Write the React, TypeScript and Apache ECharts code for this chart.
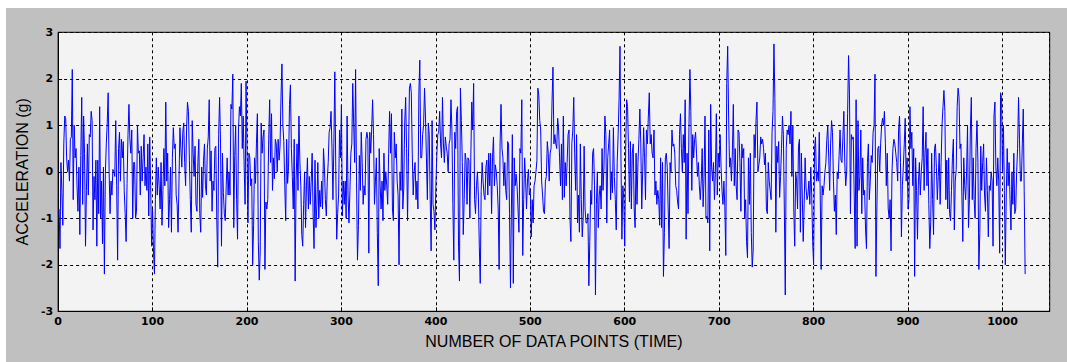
import React, { useEffect, useRef } from "react";
import * as echarts from "echarts";

// Acceleration samples (g) in 10 consecutive blocks (1024 samples total)
const seg01 = [
  -0.8, -1.65, 0.2, -0.45, -1.15, 0.6, 1.2, 1.15, 0.3, 0.0,
  0.25, -0.2, 0.7, 0.75, 2.2, -0.6, 1.0, 0.3, 0.5, -0.3,
  -0.85, 0.1, -1.35, 0.35, 1.6, -0.7, 1.2, 0.4, -1.6, -0.4,
  0.6, -0.5, 0.8, 0.75, 1.3, 1.1, -1.25, -0.1, -0.6, 0.25,
  -1.6, 0.25, -0.9, 1.4, -1.0, -0.2, -1.55, 0.1, -2.2, -0.05,
  0.6, 1.05, 1.7, 0.0, -0.9, -0.2, -0.5, 0.05, 0.0, -0.1,
  1.1, -0.3, -1.9, 0.5, 0.85, -0.2, 0.7, 0.3, 0.65, -0.4,
  -0.9, -1.5, -0.25, 0.8, 1.45, 0.7, 0.4, 0.9, -1.0, 0.2,
  0.2, -1.0, -0.85, 1.0, 0.4, 0.45, -0.5, 0.55, -0.2, 0.3,
  0.8, -0.3, 0.1, -0.4, 0.6, -0.95, 0.75, -0.3, -1.6, -0.8,
  -1.7, -2.2, -0.6,
];
const seg02 = [
  0.3, -0.5, 0.1, -0.3, -0.8, 0.2, -1.15, -0.4, 0.5, -0.3,
  1.5, -0.2, 0.4, -1.2, -0.6, 0.1, -1.3, 0.3, 0.95, 0.5,
  0.6, -0.5, -0.7, -1.3, -0.2, 0.95, 0.5, 0.1, 0.85, 1.05,
  0.2,
  -0.3, 0.9, 1.5, 1.3, 0.25, -0.6, -1.3, 1.1, 0.4, -0.1,
  0.55, -0.7, -0.85, 0.2, 0.7, -0.9, -1.3, 0.1, -0.55, 0.25,
  0.6,
  -0.3, -0.5, 0.5, 0.75, 1.55, -0.2, 0.45, -0.85, -0.2, -0.4,
  0.5, 0.55, -1.0, -2.05, 0.8, 1.6, 0.6, -1.6, 0.4, -0.45,
  -0.9,
  -1.05, -0.3, 0.3, -0.5, 0.0, -0.5, 1.45, 1.35, 2.1, -1.2,
  0.35, 1.0, -0.6, -1.45, 0.9, 1.4, 1.2, 1.9, 0.5, 1.2,
  0.1,
  -0.7, 1.95, 0.5, -1.1, 0.4, 0.3, -0.3, -0.15, -2.0, -1.15,
];
const seg03 = [
  0.3, -0.25, 0.6, 1.25, -1.5, -2.33, -1.7, 1.05, 0.4, 0.75,
  0.9, -2.1, -0.65, -0.8, -0.6, 0.7, 1.55, 0.2, 1.25, -0.4,
  0.3,
  -0.15, 0.7, 0.6, 0.0, 0.7, 0.25, 0.55, 1.6, 2.32, 1.0,
  0.65, -0.3, -1.05, 0.7, -0.25, 0.1, 1.45, 1.87, 0.5, -0.1,
  -0.8, 0.7, -2.35, -0.2, 0.6,
  -0.4,
  1.2, 0.2, -0.3, -1.35, -1.6,
  -0.7, 0.0, -1.2, -0.3, 0.3, -0.8, -0.1, -0.7, -0.2, 0.4,
  -0.9, -1.65, 0.25, -1.2, -0.7,
  0.2,
  -1.0, -0.4, -0.75, -0.2, -0.8,
  0.5, 0.1, -0.6, -0.95, -0.2, 0.2, 0.85, 0.95, 1.3, 0.5,
  -0.6, 0.6, 2.15, 0.1, -1.45,
  -0.9,
  -0.5, 0.9, 0.3, 1.44, -0.95,
  -0.2, -0.7, -0.2, -1.0, 1.2, -0.5, -1.1, -0.4, 0.4, 0.6,
];
const seg04 = [
  1.9, 1.0, 0.2, 2.2, -0.2, -1.9, -1.15, 0.35, -0.4, 0.85,
  0.2, -0.7, -0.3, -0.5, 0.7, 0.85, 0.7, -1.75, 0.85, 0.4,
  0.9, 1.55, 0.8, -0.7, -0.2,
  0.3,
  -1.3, -2.45, 0.5, -0.3, -0.8,
  -0.2, -1.05, 0.4, -0.4, 0.0, -0.3, -0.7, 0.4, 1.3, 0.4,
  1.25, -0.8, -1.05, 0.85, 0.3,
  0.6,
  -0.2, -0.5, -2.0, 0.0, -0.4,
  1.35, -0.8, -0.35, 1.05, 1.6, 0.5, -1.05, 0.3, 1.8, 1.9,
  1.7, 0.4, -0.5, 0.0, 0.2,
  -0.6,
  -0.2, -0.8, 1.7, 2.4, 0.3,
  0.3, 0.8, 1.0, 1.8, 1.2, 0.3, -0.6, 1.05, 0.8, -0.6,
  -1.7, 1.1, -0.7, -0.85, -1.25,
  -0.3,
  0.35, 0.8, 0.85, 1.3, 0.6,
  0.3, 1.6, 0.6, 0.2, 0.75, 0.55, 0.4, 0.0, 0.6, 0.7,
];
const seg05 = [
  1.55, 0.9, -0.7, -1.9, 0.85, 0.5, 1.3, 1.4, -1.6, -2.35,
  1.8, 1.1, 0.2, -1.35, -0.6,
  0.4,
  0.25, -0.7, 0.3, 0.25, -1.0,
  0.3, 1.5, 0.9, 1.9, -0.6, -0.9, -0.3, 0.0, -0.5, -1.6,
  -2.4, -0.4, 0.2, -0.2, -0.5,
  -0.6,
  0.1, 0.25, -0.5, 0.4, -0.3,
  0.4, -0.9, 0.3, 0.75, -0.3, 0.15, 0.0, -0.3, -0.8, -2.1,
  0.6, 1.45, 0.5, 0.3, -0.3,
  0.2,
  -0.4, -0.6, 0.65, 0.6, -0.9,
  -2.5, -0.8, 0.8, -2.4, 0.3, -0.3, -0.05, -0.3, -0.8, -1.3,
  0.5, 0.4, 1.55, -1.8, -0.6,
  0.3,
  -0.15, -0.8, -0.2, 0.05, -0.5,
  -0.4, -1.4, -0.6, -1.1, -0.3, -0.2, 0.0, 0.25, 1.8, 1.65,
  1.1,
  0.9, -0.2, -0.5, -0.85, -0.9, -0.2, -0.1, 0.65, 0.4,
];
const seg06 = [
  -0.2, 0.4, 0.5, 1.5, 2.25, 0.6, 0.8, 0.6, 0.5, 1.15,
  0.9,
  0.3, -0.3, 0.6, -0.6, 1.2, -0.55, 0.2, -0.3, 0.2, 0.8,
  0.9, -1.0, -1.5, 0.6, 0.9, 1.6, 0.4, -0.4, 0.8, -1.1,
  -0.5,
  -1.3, 0.6, -0.6, -1.4, -1.0, 0.55, -0.8, -1.1, -1.1, -0.9,
  -2.45, -1.5, -0.4, -0.7, 0.4, 0.5, -0.3, -2.65, -0.7, 0.0,
  -1.2,
  -0.5, -0.3, -0.8, 0.5, -0.4, 0.1, 1.2, 0.8, -1.1, 0.3,
  0.6, 0.9, -0.6, 0.0, -0.45, 0.95, -0.1, -0.6, -1.25, 0.2,
  0.8,
  1.55, 2.7, 0.3, -1.45, -0.3, -0.6, -1.6, 0.5, 1.55, 1.4,
  0.5, -0.65, 0.65, -0.8, 0.4, 0.6, -0.8, -1.2, 0.4, -0.7,
  0.2,
  0.7, 1.35, 0.6, -0.8, 0.0, 0.95, 0.3, -0.6, 0.9,
];
const seg07 = [
  0.6, 1.2, 1.7, 0.6, 0.8, 0.4, 0.3, 0.9,
  -0.5,
  -0.2, -0.7, -0.4, -0.6, -1.15, 0.3, -1.2, 0.2, -2.25, -1.3,
  0.3, 0.4, 0.1, -0.8, -1.65, 0.2, 0.0,
  0.9,
  0.55, 0.6, 0.4, -0.3, -0.4, -0.65, -0.8, 0.8, 1.25, 0.5,
  0.0, 0.8, 0.2, 1.55, -1.45,
  0.4,
  -0.9, 0.95, 2.2, 1.3, -0.4, 0.8, 0.3, 0.7, 0.85, 0.4,
  -0.1, 0.2, -0.3, -0.6, -0.2,
  0.5,
  -0.75, -0.1, 1.2, -1.0, -0.95, -1.1, 0.9, -1.7, 1.45, 0.1,
  -0.2, 0.2, -0.6, 0.0, 1.25,
  -0.5,
  0.4, 0.1, 0.8, 0.1, -0.4, -0.7, -0.2, -0.75, -1.8, 1.9,
  2.7, 1.2, 0.1, 0.3, -0.2, 0.45, 1.45, -0.3, 0.5, -0.3,
  -0.6,
  0.9, 0.85, 0.2, -0.85, 0.6, 0.3, 0.5, -1.0,
];
const seg08 = [
  -0.6, -1.5, -1.85, 0.3, -0.7, 0.4, -1.3, -2.05, -1.7, 0.8,
  0.3,
  1.1, 1.5, 0.0, 0.15, 0.3, 0.75, 0.6, 0.7, 0.5, 0.15,
  0.4, -0.8, -0.9, 0.2, -0.2,
  -0.4,
  -0.6, 0.85, 1.3, 2.75, 1.58, -1.3, 0.55, 0.2, 0.65, -0.55,
  -0.1, 0.5, 1.2, 0.8, -0.8, -2.65, 0.5, 0.9, 0.8, 1.0,
  0.6,
  1.3, -0.1, 1.0, -0.8, -1.6, 0.0, -0.2, -0.8, 0.55, 0.7,
  -1.3, 0.4, -0.5, -1.5, -0.7,
  0.3,
  -0.35, -0.6, -0.5, -0.2, -0.7, 0.1, -0.5, -1.5, -2.0, 0.5,
  0.75, -0.2, 0.0, -0.2, 0.85,
  -0.5,
  -2.1, -0.3, -0.5, -0.3, 0.0, 0.2, 0.7, 1.0, 0.3, -0.4,
  0.6, 1.1, 0.85, -0.2, -0.85,
  -0.5,
  -1.35, 0.0, -0.15, 0.35, 0.9, 0.25, 0.2, 0.75,
];
const seg09 = [
  1.3, 0.2, -0.3, 0.0, 1.25, 2.5, 1.65, -0.9, 0.8, 0.7,
  0.75, -0.5, -1.65, 1.55, -1.6, 1.1, -0.4, -0.1, 0.9, -0.9,
  0.3,
  -0.5, -0.4, -1.25, -1.65, 0.2, 0.6, -0.6, -0.2, 0.35, 0.2,
  0.85, 1.0, 2.1, -2.25, -0.8, 0.5, 0.55, 0.0, 0.6, 1.0,
  1.15, 1.0, 1.3, 0.6, -0.3,
  0.4,
  -0.8, -1.0, -0.6, -1.7, 0.0,
  0.5, 0.7, 0.6, 0.4, 0.2, -0.2, 0.9, 1.2, 0.2, -1.4,
  -0.3, 0.1, 0.6, 1.15, -0.2,
  0.3,
  -0.8, -0.6, 1.4, 0.5, 0.85,
  -0.3, 0.5, -2.25, 0.3, -0.4, -1.45, -0.2, 0.2, -0.5, 0.0,
  0.3, 1.4, -0.4, 0.4, 0.85,
  -0.3,
  0.5, -0.7, -1.65, -1.1, 0.4,
  -0.6, -1.35, 0.5, 0.6, 0.1, -0.6, -0.1, 0.4, -0.7,
];
const seg10 = [
  0.2, 1.0, 1.4, 1.75, 1.3, -0.6, 0.25, -0.8, 0.3, -0.9,
  -1.05, -0.4, 0.3, 0.7, -1.25, -0.2, 0.05, 1.4, 1.8, 1.6,
  0.5, 0.6, -0.5, -1.5, 0.3, -0.3, -0.6, 0.0, 1.0, -1.2,
  -0.6, 0.9, 1.6, -0.6, 0.3, -0.6, -1.0, 0.5, 1.1, 0.2,
  -2.1, -1.3, 0.55, -0.4, 0.2,
  0.6,
  -0.5, -0.85, 0.3, -0.4, -1.4,
  -0.3, -0.4, 0.0, -0.2, -1.6, 1.2, 1.5, 0.1, -0.3, 0.3,
  -0.2, -1.75, 1.7, 1.6, 0.0, 1.0, -0.4, -2.0, -0.5, 0.5,
  -0.3, 0.2, -0.6, -1.25, 0.0, -0.7, 0.4, -0.9, -0.8, 0.0,
  0.5, 1.6, 0.7, -0.2, -0.2, 0.6, 1.35, -0.4, -2.2,
];

const acceleration = [
  ...seg01, ...seg02, ...seg03, ...seg04, ...seg05,
  ...seg06, ...seg07, ...seg08, ...seg09, ...seg10,
];

const X_MIN = 0;
const X_MAX = 1050;
const X_STEP = 100;
const Y_MIN = -3;
const Y_MAX = 3;
const Y_STEP = 1;
const X_TITLE = "NUMBER OF DATA POINTS (TIME)";
const Y_TITLE = "ACCELERATION (g)";

export default function App() {
  const ref = useRef<HTMLDivElement>(null);

  useEffect(() => {
    if (!ref.current) return;
    const chart = echarts.init(ref.current, undefined, { renderer: "svg" });
    const tickFont = {
      fontFamily: "DejaVu Sans",
      fontWeight: "bold" as const,
      fontSize: 11,
      color: "#000",
    };
    const dashed = { color: "#000", type: [3, 3] as number[], width: 1 };
    chart.setOption({
      animation: false,
      backgroundColor: "#c0c0c0",
      grid: {
        left: 51.7,
        right: 17.3,
        top: 24.3,
        bottom: 50.7,
        show: true,
        backgroundColor: "#f3f3f3",
        borderColor: "#000",
        borderWidth: 1,
      },
      xAxis: {
        type: "value",
        min: X_MIN,
        max: X_MAX,
        interval: X_STEP,
        name: X_TITLE,
        nameLocation: "middle",
        nameGap: 22,
        nameTextStyle: {
          fontFamily: "Liberation Sans",
          fontSize: 16,
          color: "#000",
        },
        axisLine: { show: true, onZero: false, lineStyle: { color: "#000", width: 1 } },
        axisTick: { show: true, inside: true, length: 4, lineStyle: { color: "#000" } },
        axisLabel: {
          ...tickFont,
          margin: 5,
          showMaxLabel: false,
          formatter: (v: number) => (v > 1000 ? "" : String(v)),
        },
        splitLine: { show: true, lineStyle: dashed },
      },
      yAxis: {
        type: "value",
        min: Y_MIN,
        max: Y_MAX,
        interval: Y_STEP,
        name: Y_TITLE,
        nameLocation: "middle",
        nameGap: 17,
        nameRotate: 90,
        nameTextStyle: {
          fontFamily: "Liberation Sans",
          fontSize: 16,
          color: "#000",
        },
        axisLine: { show: true, onZero: false, lineStyle: { color: "#000", width: 1 } },
        axisTick: { show: true, inside: true, length: 4, lineStyle: { color: "#000" } },
        axisLabel: { ...tickFont, margin: 5 },
        splitLine: { show: true, lineStyle: dashed },
      },
      series: [
        {
          type: "line",
          data: acceleration.map((v, i) => [i + 1, v]),
          showSymbol: false,
          symbol: "none",
          lineStyle: { color: "#0000ff", width: 1 },
          itemStyle: { color: "#0000ff" },
          emphasis: { disabled: true },
          silent: true,
        },
      ],
    });
    return () => chart.dispose();
  }, []);

  return (
    <div
      ref={ref}
      style={{ position: "absolute", left: 6, top: 8, width: 1061, height: 354 }}
    />
  );
}
